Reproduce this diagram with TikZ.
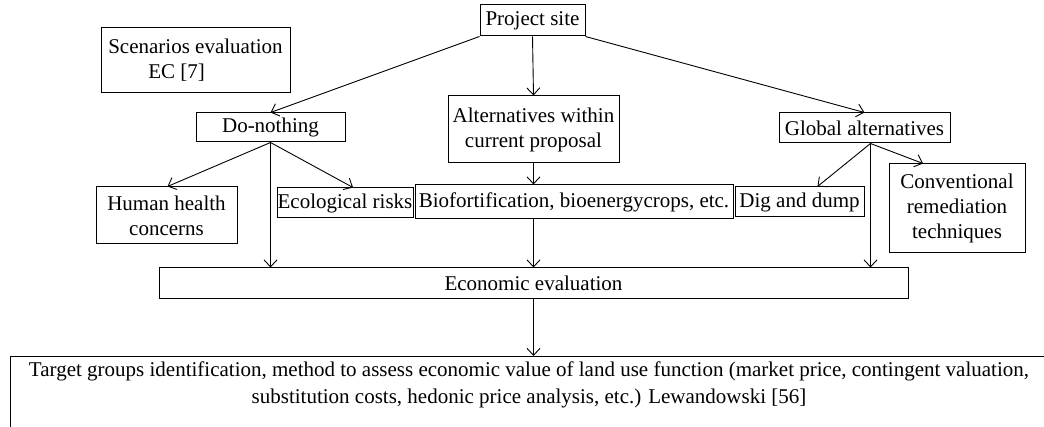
\documentclass[tikz,border=0pt]{standalone}
\usepackage{fontspec}
\setmainfont{Liberation Serif}
\usetikzlibrary{arrows.meta,calc}
\begin{document}
\begin{tikzpicture}[x=1pt,y=-1pt,
  box/.style={draw,line width=1pt,inner sep=0pt,align=center,font=\fontsize{21}{25}\selectfont},
  arr/.style={-{Straight Barb[length=7pt,width=13pt,line width=0.9pt]},line width=0.9pt}]
\useasboundingbox (0,0) rectangle (1044,427);
\node[box,minimum width=105pt,minimum height=31pt] (proj) at (532.5,20.5) {Project site};
\node[box,minimum width=189pt,minimum height=65pt,align=left] (scen) at (195.5,60.5) {Scenarios evaluation\\\hspace*{40pt}EC [7]};
\node[box,minimum width=149pt,minimum height=29pt] (dono) at (270.5,127.5) {Do-nothing};
\node[box,minimum width=171pt,minimum height=67pt] (alt) at (533.5,129.5) {Alternatives within\\current proposal};
\node[box,minimum width=171pt,minimum height=30pt] (glob) at (864.5,128) {Global alternatives};
\node[box,minimum width=141pt,minimum height=57pt] (hh) at (166.5,215.5) {Human health\\concerns};
\node[box,minimum width=136pt,minimum height=30pt] (eco) at (345,203) {Ecological risks};
\node[box,minimum width=318pt,minimum height=34pt] (bio) at (574,202) {Biofortification, bioenergycrops, etc.};
\node[box,minimum width=129pt,minimum height=30pt] (dig) at (799.5,202) {Dig and dump};
\node[box,minimum width=136pt,minimum height=89pt] (conv) at (957,208.5) {Conventional\\remediation\\techniques};
\node[box,minimum width=749pt,minimum height=31pt] (econ) at (533.5,283.5) {Economic evaluation};
\node[draw,line width=1pt,inner sep=0pt,anchor=north west,minimum width=1040pt,minimum height=90pt] (tbox) at (10,356) {};
\node[align=center,inner sep=0pt,font=\fontsize{21}{27}\selectfont] (target) at (529,385) {Target groups identification, method to assess economic value of land use function (market price, contingent valuation,\\substitution costs, hedonic price analysis, etc.) Lewandowski [56]};
\coordinate (gj) at ([xshift=6pt]glob.south);
\draw[arr] (proj.south west) -- (dono.north);
\draw[arr] (proj.south) -- (alt.north);
\draw[arr] (proj.south east) -- (glob.north);
\draw[arr] (dono.south) -- ([xshift=1pt]hh.north);
\draw[arr] (dono.south) -- ([xshift=8pt]eco.north);
\draw[arr] (dono.south) -- (dono.south |- econ.north);
\draw[arr] (alt.south) -- (alt.south |- bio.north);
\draw[arr] (econ.north |- bio.south) -- (econ.north);
\draw[arr] (gj) -- ([xshift=18pt]dig.north);
\draw[arr] (gj) -- ([xshift=-34pt]conv.north);
\draw[arr] (gj) -- (gj |- econ.north);
\draw[arr] (econ.south) -- (econ.south |- tbox.north);
\end{tikzpicture}
\end{document}
